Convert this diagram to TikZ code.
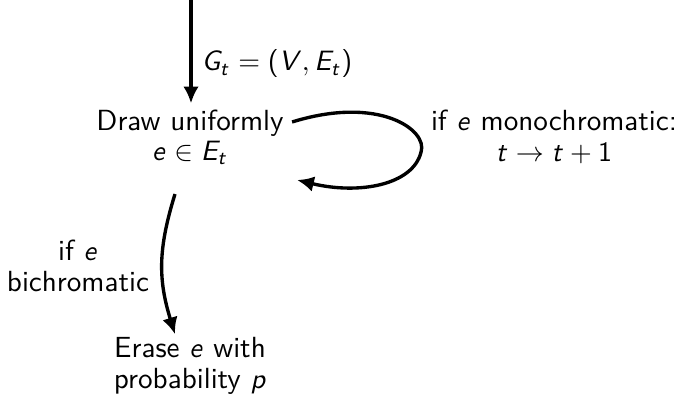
\documentclass[tikz,border=0pt]{standalone}
\renewcommand{\familydefault}{\sfdefault}
\SetSymbolFont{operators}{normal}{OT1}{cmss}{m}{n}
\DeclareMathAlphabet{\mathsfsl}{OT1}{cmss}{m}{sl}
\newcommand{\mi}[1]{\mathsfsl{#1}}
\usetikzlibrary{arrows.meta}
\begin{document}
\begin{tikzpicture}[x=0.357pt,y=-0.357pt,
  arr/.style={line width=1.2pt,-{Latex[length=6pt,width=5.6pt]}},
  txt/.style={align=center,inner sep=0pt,font=\fontsize{10.4}{10.8}\selectfont}]
\useasboundingbox (0,0) rectangle (678,407);
\node[txt] (draw) at (190,137) {Draw uniformly\\$\mi{e}\in \mi{E}_{\mi{t}}$};
\node[txt] (erase) at (190,366) {Erase $\mi{e}$ with\\probability $\mi{p}$};
\node[txt,anchor=west] (glab) at (201,64) {$\mi{G}_{\mi{t}}=(\mi{V},\mi{E}_{\mi{t}})$};
\node[txt] (mono) at (554,137) {if $\mi{e}$ monochromatic:\\$\mi{t}\to \mi{t}+1$};
\node[txt] (bi) at (78,266) {if $\mi{e}$\\bichromatic};
\coordinate (top) at (191,0);
\draw[arr] (top) -- ([yshift=2pt]top |- draw.north);
\draw[arr] ([shift={(8,-15)}]draw.east) .. controls +(87,-27) and +(7,-22) .. ([shift={(137,15)}]draw.east)
  .. controls +(-8,33) and +(62,15) .. ([shift={(13,43)}]draw.east);
\draw[arr] ([shift={(-15,29)}]draw.south) .. controls +(-17,55) and +(-17,-55) .. ([shift={(-15,-3)}]erase.north);
\end{tikzpicture}
\end{document}
